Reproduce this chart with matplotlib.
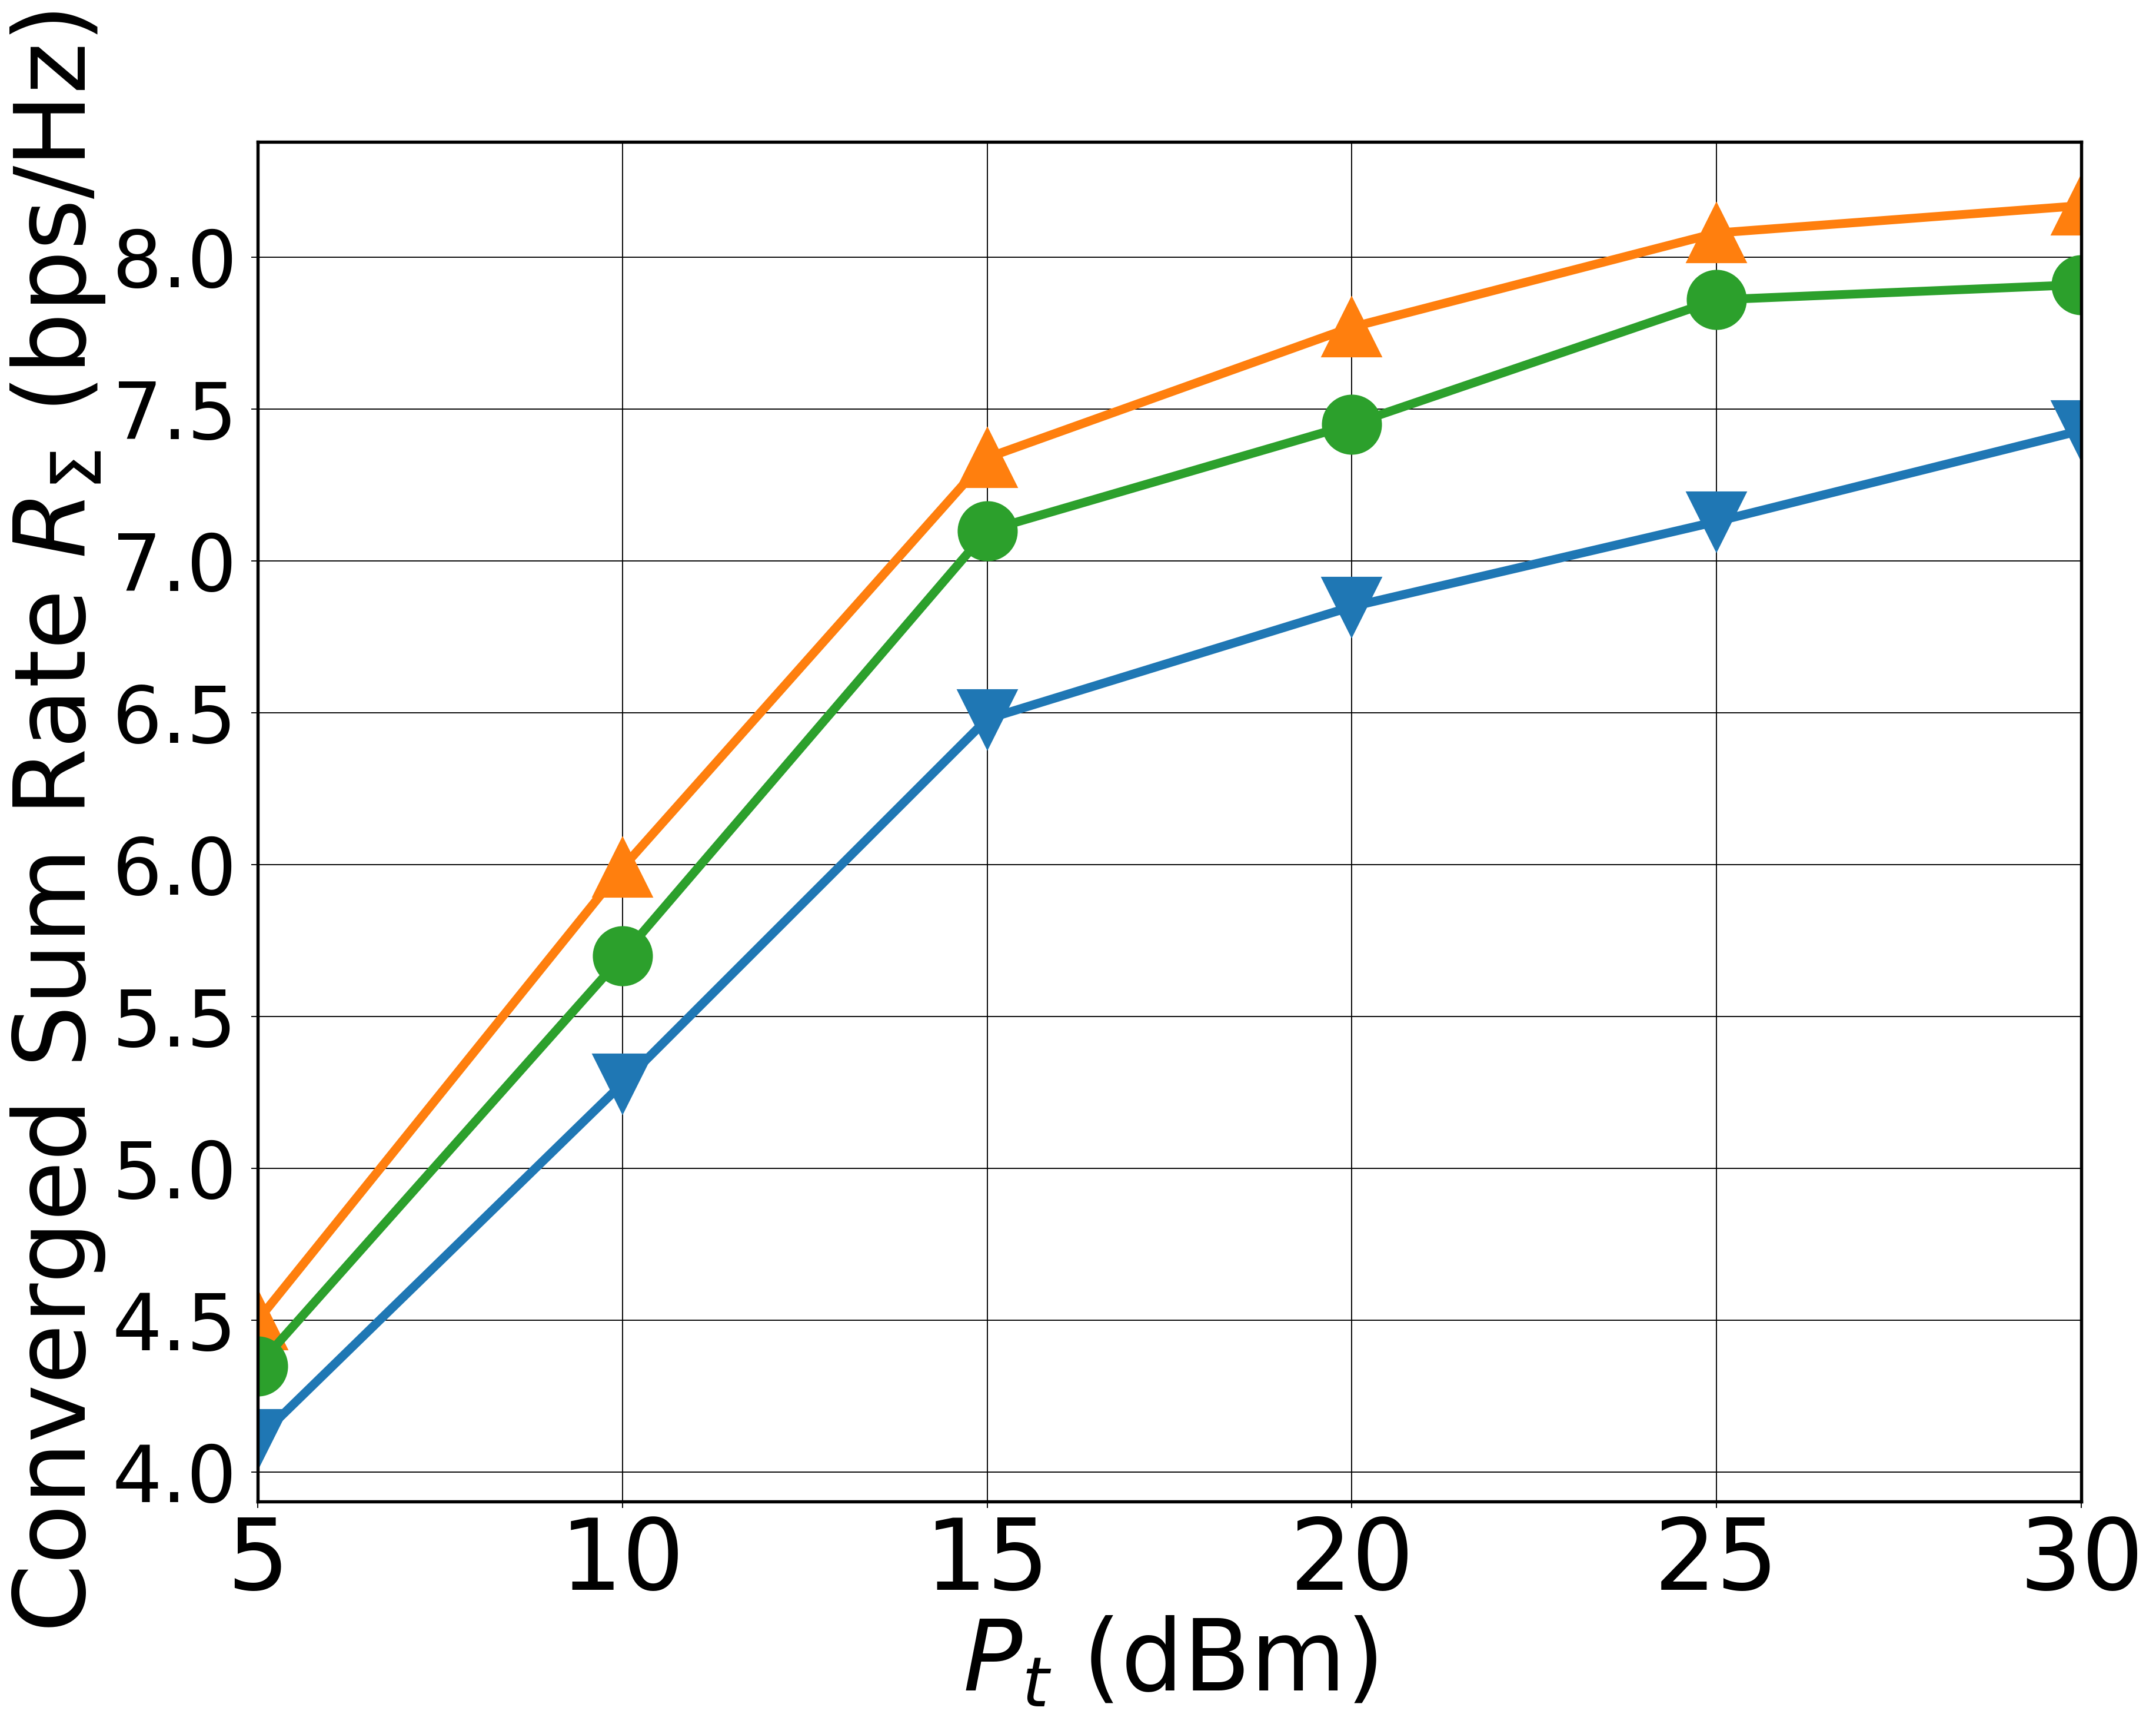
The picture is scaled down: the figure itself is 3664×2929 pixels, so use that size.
import matplotlib
matplotlib.use("Agg")
import matplotlib.pyplot as plt
import numpy as np

# Data
pt_dbm = [5, 10, 15, 20, 25, 30]
series_blue = [4.11, 5.28, 6.48, 6.85, 7.13, 7.43]
series_orange = [4.50, 5.99, 7.34, 7.77, 8.08, 8.17]
series_green = [4.35, 5.70, 7.10, 7.45, 7.86, 7.91]
x_ticks = [5, 10, 15, 20, 25, 30]
y_ticks = [4.0, 4.5, 5.0, 5.5, 6.0, 6.5, 7.0, 7.5, 8.0]

DPI = 300
W, H = 3664, 2929
fig = plt.figure(figsize=(W / DPI, H / DPI), dpi=DPI)
L, R, T, B = 438, 3537, 241, 2551
ax = fig.add_axes([L / W, 1 - B / H, (R - L) / W, (B - T) / H])

lw = 3.6
ms = 23.5
ax.plot(pt_dbm, series_blue, color="#1f77b4", marker="v", lw=lw, ms=ms)
ax.plot(pt_dbm, series_orange, color="#ff7f0e", marker="^", lw=lw, ms=ms)
ax.plot(pt_dbm, series_green, color="#2ca02c", marker="o", lw=lw, ms=ms)

ax.set_xlim(5, 30)
ax.set_ylim(3.904, 8.38)
ax.set_xticks(x_ticks)
ax.set_yticks(y_ticks)
ax.set_yticklabels([f"{v:.1f}" for v in y_ticks])
ax.grid(True, color="black", linewidth=0.45)
ax.tick_params(axis="both", length=2.7, width=0.45)
ax.tick_params(axis="x", labelsize=40, pad=2.5)
ax.tick_params(axis="y", labelsize=32, pad=5.8)
for s in ax.spines.values():
    s.set_linewidth(1.3)

ax.set_xlabel(r"$P_t$ (dBm)", fontsize=40, labelpad=2)
ax.set_ylabel(r"Converged Sum Rate $R_\Sigma$ (bps/Hz)", fontsize=40, labelpad=2)

fig.savefig("out.png", dpi=DPI)
